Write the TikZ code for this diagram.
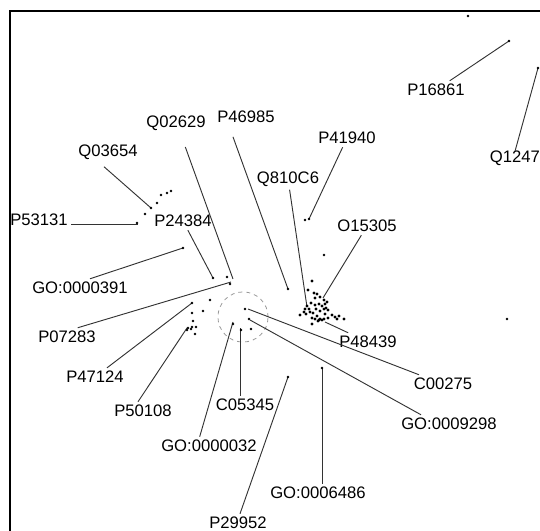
\documentclass[tikz,border=0pt]{standalone}
\usepackage{fontspec}
\setmainfont{Liberation Sans}
\begin{document}
\begin{tikzpicture}[x=0.75pt,y=-0.75pt,
  lbl/.style={font=\fontsize{12.5}{14}\selectfont,inner sep=1pt,outer sep=1.5pt},
  lead/.style={line width=0.7pt,black!80},
  dot/.style={fill=black}]
\useasboundingbox (0,0) rectangle (540,531);
\clip (0,0) rectangle (540,531);
% frame
\draw[line width=1.5pt] (10,545) -- (10,11) -- (550,11);
% selection
\draw[black!40,dashed,line width=0.6pt] (243,317) circle (18.8pt);
% labels
\node[lbl] (p16861) at (436,90) {P16861};
\node[lbl] (q1247) at (515,158) {Q1247};
\node[lbl] (p41940) at (347,138) {P41940};
\node[lbl] (q810c6) at (288,179) {Q810C6};
\node[lbl] (o15305) at (367,226) {O15305};
\node[lbl] (p46985) at (246,117) {P46985};
\node[lbl] (q02629) at (176,123) {Q02629};
\node[lbl] (q03654) at (108,152) {Q03654};
\node[lbl] (p53131) at (39,220) {P53131};
\node[lbl] (p24384) at (183,221) {P24384};
\node[lbl] (go391) at (80,288) {GO:0000391};
\node[lbl] (p07283) at (67,337) {P07283};
\node[lbl] (p47124) at (95,377) {P47124};
\node[lbl] (p50108) at (143,411) {P50108};
\node[lbl] (c05345) at (245,405) {C05345};
\node[lbl] (go32) at (209,446) {GO:0000032};
\node[lbl] (p29952) at (238,523) {P29952};
\node[lbl] (go6486) at (318,493) {GO:0006486};
\node[lbl] (go9298) at (449,424) {GO:0009298};
\node[lbl] (c00275) at (443,384) {C00275};
\node[lbl] (p48439) at (368,342) {P48439};
% line ends
\coordinate (e16861) at (509,41);
\coordinate (e1247) at (538,68);
\coordinate (e41940) at (309,219);
\coordinate (e810c6) at (307,307);
\coordinate (e15305) at (323,298);
\coordinate (e46985) at (288,289);
\coordinate (e02629) at (233,279);
\coordinate (e03654) at (151,208);
\coordinate (e53131) at (138,224);
\coordinate (e24384) at (213,278);
\coordinate (e391) at (183,248);
\coordinate (e07283) at (231,282);
\coordinate (e47124) at (192,303);
\coordinate (e50108) at (187,328);
\coordinate (e05345) at (240,328);
\coordinate (e32) at (233,322);
\coordinate (e29952) at (288,377);
\coordinate (e6486) at (322,368);
\coordinate (e9298) at (250,320);
\coordinate (e00275) at (248,309);
\coordinate (e48439) at (325,322);
% leaders
\foreach \a/\b in {p16861/e16861,p41940/e41940,q810c6/e810c6,
  o15305/e15305,p24384/e24384,p47124/e47124,
  c00275/e00275,p48439/e48439}
  \draw[lead] (\a) -- (\b);
\draw[lead] ([yshift=-3pt]q1247.north) -- (e1247);
\draw[lead] ([xshift=-9.75pt,yshift=-8pt]p46985.south) -- (e46985);
\draw[lead] ([xshift=7pt,yshift=-10pt]q02629.south) -- (e02629);
\draw[lead] ([xshift=-3pt,yshift=-3pt]q03654.south) -- (e03654);
\draw[lead] (p53131.east |- e53131) -- (e53131);
\draw[lead] ([xshift=7.5pt]go391.north) -- (e391);
\draw[lead] ([xshift=8pt]p07283.north) -- (e07283);
\draw[lead] ([xshift=-3.75pt]p50108.north) -- (e50108);
\draw[lead] (c05345.north -| e05345) -- (e05345);
\draw[lead] ([xshift=-7pt]go32.north) -- (e32);
\draw[lead] ([xshift=1.5pt]p29952.north) -- (e29952);
\draw[lead] (go6486.north -| e6486) -- (e6486);
\draw[lead] ([xshift=-21pt]go9298.north) -- (e9298);
% dots
\foreach \p in {(468,16),(509,41),(538,68),(507,319),(305,220),(309,219),
  (324,255),(288,289),(288,377),(322,368),(183,248),
  (137,223),(145,214),(151,208),(157,203),(161,195),(167,193),(171,191),
  (213,278),(227,277),(230,284),(192,303),(210,300),(192,313),(203,311),
  (193,321),(192,327),(188,328),(187,330),(196,327),(195,334),(191,329),
  (245,309),(249,319),(233,324),(241,330),(251,329)}
  \fill[dot] \p circle (1.05pt);
% cluster
\foreach \p in {(312,281),(308,290),(314,293),(317,294),(315,298),(320,297),
  (324,300),(327,302),(325,304),(319,304),(322,306),(315,305),(311,303),
  (307,306),(305,309),(309,309),(304,312),(306,314),(310,312),(313,313),
  (316,309),(320,311),(324,309),(328,310),(325,314),(317,316),(320,319),
  (315,319),(319,320),(324,319),(312,318),(328,318),(332,315),(335,317),
  (339,316),(337,319),(344,319),(312,324),(300,315),(326,308),(322,320),
  (318,321)}
  \fill[dot] \p circle (1.2pt);
\end{tikzpicture}
\end{document}
